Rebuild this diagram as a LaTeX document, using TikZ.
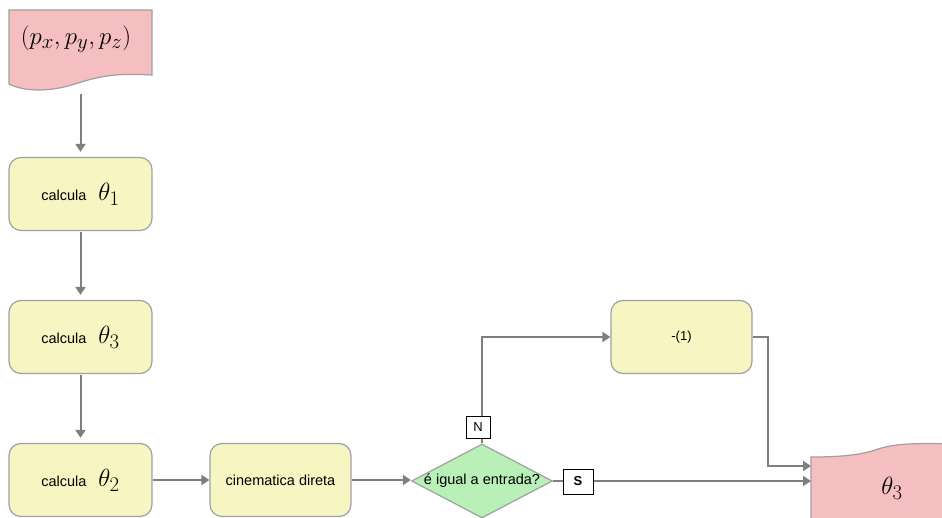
\documentclass[tikz,border=0pt]{standalone}
\usepackage[no-math]{fontspec}
\setmainfont{Liberation Sans}
\usetikzlibrary{arrows.meta,shapes.geometric}
\definecolor{ylw}{HTML}{F7F5C1}
\definecolor{bgray}{HTML}{A0A0A0}
\definecolor{cgray}{HTML}{7F7F7F}
\definecolor{pnk}{HTML}{F5BEC0}
\definecolor{grn}{HTML}{B8F0B8}
\newcommand{\bigth}[1]{{\fontsize{29}{32}\selectfont$\theta_{#1}$}}
\tikzset{
  ybox/.style={draw=bgray, fill=ylw, rounded corners=12pt, line width=1.2pt,
    minimum width=143pt, minimum height=73pt, inner sep=0pt,
    font=\fontsize{14.5}{16}\selectfont},
  docshape/.style={draw=bgray, fill=pnk, line width=1.2pt},
  conn/.style={draw=cgray, line width=2pt, -{Triangle[length=8pt,width=10pt]}},
  tag/.style={draw=black, fill=white, line width=1pt, inner sep=0pt,
    font=\fontsize{13}{15}\selectfont},
}
\begin{document}
\begin{tikzpicture}[x=1pt,y=-1pt]
\useasboundingbox (0,0) rectangle (942,518);
\begin{scope}
\clip (0,0) rectangle (942,518);
% input document
\draw[docshape] (9,10) -- (152,10) -- (152,75)
  .. controls (115,73) and (100,76) .. (75,84)
  .. controls (50,92) and (25,92) .. (9,84) -- cycle;
\node[font=\fontsize{31}{34}\selectfont] (in) at (76,39) {$(p_x,p_y,p_z)$};
\coordinate (inbot) at (80.5,94);
% output document
\draw[docshape] (811,457) -- (811,540) -- (960,540) -- (960,444)
  .. controls (915,443) and (895,443) .. (875,450)
  .. controls (860,455) and (840,457) .. (811,457) -- cycle;
\node (out) at (892,488) {\bigth{3}};
\coordinate (outa) at (811,466);
\coordinate (outb) at (811,481);
% boxes
\node[ybox] (t1) at (80.5,194) {calcula\hspace{12pt}\bigth{1}};
\node[ybox] (t3) at (80.5,337) {calcula\hspace{12pt}\bigth{3}};
\node[ybox] (t2) at (80.5,480) {calcula\hspace{12pt}\bigth{2}};
\node[ybox, minimum width=141pt] (cd) at (280.5,480) {cinematica direta};
\node[ybox, minimum width=141pt] (m1) at (681.5,337) {\fontsize{13}{15}\selectfont -(1)};
% decision
\node[diamond, draw=bgray, fill=grn, line width=1.2pt, minimum width=141pt,
  minimum height=74pt, inner sep=0pt] (d) at (482,481) {};
\node[font=\fontsize{14.5}{16}\selectfont] (dt) at (d.center) {é igual a entrada?};
% connectors
\draw[conn, shorten >=5pt] (inbot) -- (t1.north);
\draw[conn, shorten <=1pt, shorten >=5pt] (t1.south) -- (t3.north);
\draw[conn, shorten <=1pt, shorten >=5pt] (t3.south) -- (t2.north);
\draw[conn] (t2.east) -- (cd.west);
\draw[conn] (cd.east) -- (cd.east -| d.west);
\draw[conn] (d.north) |- (m1.west);
\draw[conn] (d.east) -- (outb);
\draw[conn] (m1.east) -- ++(15,0) |- (outa);
% tags
\node[tag, minimum width=24pt, minimum height=22pt] (nt) at (478,427) {N};
\node[tag, minimum width=30pt, minimum height=25pt] (st) at (578,481.5) {\bfseries S};
\end{scope}
\end{tikzpicture}
\end{document}
